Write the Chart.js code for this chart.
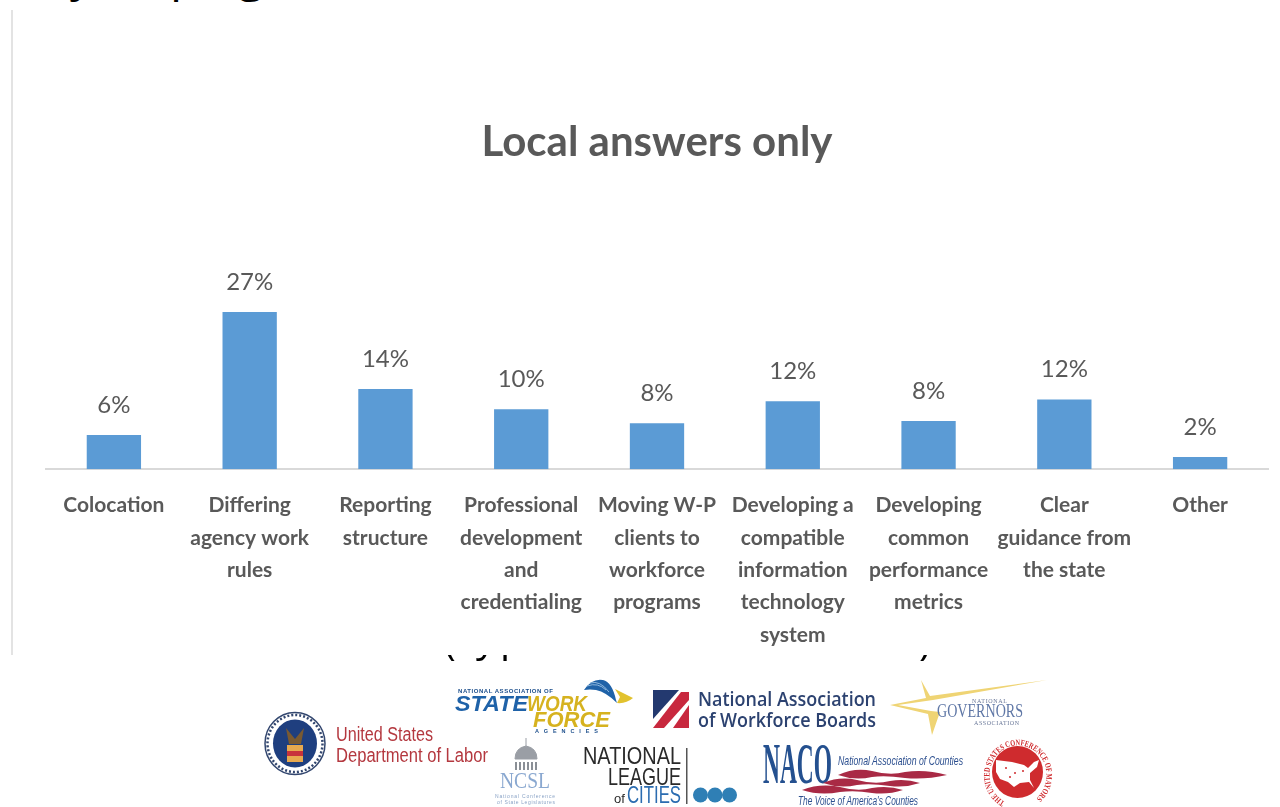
<!DOCTYPE html>
<html>
<head>
<meta charset="utf-8">
<title>Local answers only</title>
<script src="https://cdn.jsdelivr.net/npm/chart.js@4"></script>
<style>
  html, body { margin: 0; padding: 0; background: #fff; overflow: hidden; }
  #page { position: relative; width: 1280px; height: 807px; overflow: hidden; }
  #chart { position: absolute; left: 0; top: 0; filter: blur(0.4px); }
  #rule { position: absolute; left: 11px; top: 10px; width: 2px; height: 645px; background: #e3e3e3; }
  /* slide headings cut off by the pasted chart, only the bottoms of the letters show */
  .cut { position: absolute; overflow: hidden; font: 48px "Open Sans", sans-serif; color: #000; line-height: 60px; }
  .cut span { position: absolute; white-space: nowrap; }
  #logos { position: absolute; left: 0; top: 0; filter: blur(0.5px); }
</style>
</head>
<body>
<div id="page">
  <div class="cut" style="left:0;top:0;width:640px;height:3px">
    <span style="left:70px;top:-57px">y</span>
    <span style="left:170px;top:-57px">p</span>
    <span style="left:238px;top:-57px">g</span>
  </div>
  <div id="rule"></div>
  <canvas id="chart" width="1280" height="663"></canvas>
  <div class="cut" style="left:0;top:655px;width:1280px;height:6px;font-size:40px">
    <span style="left:444px;top:-45px">(</span>
    <span style="left:476px;top:-49px">y</span>
    <span style="left:500px;top:-49px">p</span>
    <span style="left:919px;top:-45px">)</span>
  </div>

  <svg id="logos" width="1280" height="807" xmlns="http://www.w3.org/2000/svg" font-family="'Liberation Sans Narrow','Liberation Sans',sans-serif">
    <!-- Department of Labor -->
    <ellipse cx="295" cy="743.5" rx="30" ry="31" fill="#fff" stroke="#33476f" stroke-width="1.5"/>
    <ellipse cx="295" cy="743.5" rx="27.5" ry="28.5" fill="none" stroke="#33476f" stroke-width="2.5" stroke-dasharray="2 2"/>
    <ellipse cx="295" cy="743.5" rx="22" ry="24" fill="#1f3f7f"/>
    <path d="M286 728 L295 739 L304 728 L301 744 L289 744 Z" fill="#7a5a32"/>
    <rect x="287" y="745" width="16" height="17" fill="#e8a94f"/>
    <rect x="287" y="751" width="16" height="5" fill="#c8323c"/>
    <text x="336" y="741" font-size="20" fill="#b4383f" textLength="97" lengthAdjust="spacingAndGlyphs">United States</text>
    <text x="336" y="762" font-size="20" fill="#b4383f" textLength="152" lengthAdjust="spacingAndGlyphs">Department of Labor</text>

    <!-- State Workforce Agencies -->
    <text x="458" y="693" font-size="6" font-weight="bold" fill="#1d4f8c" textLength="95">NATIONAL ASSOCIATION OF</text>
    <text x="455" y="711" font-size="22" font-weight="bold" font-style="italic" fill="#1f62a8" textLength="73" lengthAdjust="spacingAndGlyphs">STATE</text>
    <text x="527" y="711" font-size="22" font-weight="bold" font-style="italic" fill="#d6b21f" textLength="60" lengthAdjust="spacingAndGlyphs">WORK</text>
    <text x="533" y="727" font-size="22" font-weight="bold" font-style="italic" fill="#d6b21f" textLength="77" lengthAdjust="spacingAndGlyphs">FORCE</text>
    <text x="535" y="733" font-size="5.5" font-weight="bold" fill="#1d4f8c" textLength="63">AGENCIES</text>
    <path d="M584 690 Q592 678 603 680 Q612 682 616 700 L617 703 Q606 692 596 690 Q590 689 584 690 Z" fill="#1f62a8"/>
    <path d="M587 686 Q598 682 606 690 M590 683 Q600 680 609 692" stroke="#8fb8de" stroke-width="1" fill="none"/>
    <path d="M615 689 L633 698 Q626 704 617 703 L620 697 Z" fill="#e2c22e"/>

    <!-- National Association of Workforce Boards -->
    <path d="M653 690 H679 L653 719 Z" fill="#23396f"/>
    <path d="M681 692 H689 V700 L664 728 H653 Z" fill="#c8283e"/>
    <path d="M689 705 V728 H673 Z" fill="#c8283e"/>
    <text x="698" y="706" font-size="20" font-weight="600" font-family="'Open Sans',sans-serif" fill="#2c4270" textLength="178" lengthAdjust="spacingAndGlyphs">National Association</text>
    <text x="698" y="727" font-size="20" font-weight="600" font-family="'Open Sans',sans-serif" fill="#2c4270" textLength="178" lengthAdjust="spacingAndGlyphs">of Workforce Boards</text>

    <!-- National Governors Association -->
    <path d="M1047 680 L930 696 L921 680 L926 698 L890 705 L928 714 L932 735 L940 712 L931 711 L898 705 L933 700 Z" fill="#efd474"/>
    <text x="972" y="703" font-size="6" font-family="'Liberation Serif',serif" fill="#6a7899" textLength="35">NATIONAL</text>
    <text x="937" y="717" font-size="18" font-family="'Liberation Serif',serif" fill="#5f77a6" textLength="86" lengthAdjust="spacingAndGlyphs">GOVERNORS</text>
    <text x="974" y="725" font-size="6" font-family="'Liberation Serif',serif" fill="#6a7899" textLength="45">ASSOCIATION</text>

    <!-- NCSL -->
    <path d="M526 738 V746 M515 759 Q515 748 526 746 Q537 748 537 759 Z" fill="#9a9ea5" stroke="#9a9ea5"/>
    <path d="M516 762 V770 M520 762 V770 M524 762 V770 M528 762 V770 M532 762 V770 M536 762 V770" stroke="#8a8f96" stroke-width="2"/>
    <text x="500" y="788" font-size="23" font-family="'Liberation Serif',serif" fill="#8aa8d0" textLength="50" lengthAdjust="spacingAndGlyphs">NCSL</text>
    <text x="495" y="798" font-size="5" fill="#8aa3c6" textLength="60">National Conference</text>
    <text x="497" y="804" font-size="5" fill="#8aa3c6" textLength="58">of State Legislatures</text>

    <!-- National League of Cities -->
    <text x="583" y="764" font-size="24" fill="#2a2a2a" textLength="98" lengthAdjust="spacingAndGlyphs">NATIONAL</text>
    <text x="608" y="785" font-size="24" fill="#2a2a2a" textLength="73" lengthAdjust="spacingAndGlyphs">LEAGUE</text>
    <text x="614" y="803" font-size="13" fill="#2a2a2a">of</text>
    <text x="627" y="803" font-size="24" fill="#2b6cb0" textLength="54" lengthAdjust="spacingAndGlyphs">CITIES</text>
    <rect x="686" y="748" width="1.5" height="56" fill="#555"/>
    <circle cx="700.5" cy="795" r="7.5" fill="#2f7fb5"/>
    <circle cx="715" cy="795" r="7.5" fill="#2f7fb5"/>
    <circle cx="729.5" cy="795" r="7.5" fill="#2f7fb5"/>

    <!-- NACo -->
    <text x="763" y="783" font-size="56" font-weight="bold" font-family="'Liberation Serif',serif" fill="#24508f" textLength="69" lengthAdjust="spacingAndGlyphs">NACO</text>
    <text x="838" y="765" font-size="13" font-style="italic" fill="#2c4f8f" textLength="125" lengthAdjust="spacingAndGlyphs">National Association of Counties</text>
    <g fill="#a92a45">
      <path d="M838 775 Q855 767 872 771 Q890 776 905 772 Q925 769 947 775 Q925 780 905 778 Q885 775 872 777 Q855 781 838 775 Z"/>
      <path d="M823 783 Q840 776 857 780 Q875 785 890 781 Q905 778 920 783 Q905 788 890 786 Q870 783 857 785 Q840 789 823 783 Z"/>
      <path d="M802 790 Q820 783 840 787 Q858 792 872 788 Q888 785 903 790 Q888 795 872 793 Q855 790 840 792 Q820 796 802 790 Z"/>
    </g>
    <text x="798" y="805" font-size="12" font-style="italic" fill="#2c4f8f" textLength="120" lengthAdjust="spacingAndGlyphs">The Voice of America's Counties</text>

    <!-- US Conference of Mayors -->
    <defs><path id="mayorsRing" d="M1005 802 A28.5 30 0 1 1 1031 802"/></defs>
    <ellipse cx="1017.5" cy="772" rx="25.5" ry="26" fill="#cf2b2e"/>
    <path d="M996 760 L1012 762 L1024 765 L1028 768 L1034 762 L1039 760 L1037 767 L1030 773 L1030 780 L1034 788 L1029 782 L1020 783 L1014 787 L1008 782 L1000 779 L996 772 Z" fill="#fff"/>
    <circle cx="1006" cy="768" r="1" fill="#cf2b2e"/>
    <circle cx="1015" cy="773" r="1" fill="#cf2b2e"/>
    <circle cx="1023" cy="771" r="1" fill="#cf2b2e"/>
    <circle cx="1010" cy="777" r="1" fill="#cf2b2e"/>
    <text font-size="8.5" font-weight="bold" font-family="'Liberation Serif',serif" fill="#cf2b2e"><textPath href="#mayorsRing" textLength="150" lengthAdjust="spacingAndGlyphs">THE UNITED STATES CONFERENCE OF MAYORS</textPath></text>
  </svg>
</div>

<script>
const categories = [
  ["Colocation"],
  ["Differing", "agency work", "rules"],
  ["Reporting", "structure"],
  ["Professional", "development", "and", "credentialing"],
  ["Moving W-P", "clients to", "workforce", "programs"],
  ["Developing a", "compatible", "information", "technology", "system"],
  ["Developing", "common", "performance", "metrics"],
  ["Clear", "guidance from", "the state"],
  ["Other"]
];
const shares = [5.9, 27, 13.8, 10.3, 7.9, 11.7, 8.3, 12, 2.1];
const shareLabels = ["6%", "27%", "14%", "10%", "8%", "12%", "8%", "12%", "2%"];

const textColor = "#595959";
const fontName = "Lato, 'Open Sans', sans-serif";

// value labels above the bars
const barLabels = {
  id: "barLabels",
  afterDatasetsDraw(chart) {
    const ctx = chart.ctx;
    ctx.save();
    ctx.textAlign = "center";
    ctx.textBaseline = "middle";
    ctx.fillStyle = textColor;
    ctx.font = "24px " + fontName;
    chart.getDatasetMeta(0).data.forEach((bar, i) => {
      ctx.fillText(shareLabels[i], bar.x, bar.y - 30);
    });
    ctx.restore();
  }
};

new Chart(document.getElementById("chart"), {
  type: "bar",
  data: {
    labels: categories,
    datasets: [{
      data: shares,
      backgroundColor: "#5b9bd5",
      borderWidth: 0,
      categoryPercentage: 1,
      barPercentage: 0.4
    }]
  },
  plugins: [barLabels],
  options: {
    responsive: false,
    animation: false,
    layout: { padding: { left: 46, right: 12, top: 117, bottom: 0 } },
    plugins: {
      legend: { display: false },
      tooltip: { enabled: false },
      title: {
        display: true,
        text: "Local answers only",
        color: textColor,
        font: { family: fontName, size: 42, weight: "bold" },
        padding: { top: 0, bottom: 98 }
      }
    },
    scales: {
      x: {
        grid: { display: false },
        border: { color: "#d9d9d9", width: 2 },
        ticks: {
          color: textColor,
          padding: 12,
          maxRotation: 0,
          autoSkip: false,
          font: { family: fontName, size: 21, weight: "bold", lineHeight: 1.54 }
        }
      },
      y: { display: false, min: 0, max: 35 }
    }
  }
});
</script>
</body>
</html>
